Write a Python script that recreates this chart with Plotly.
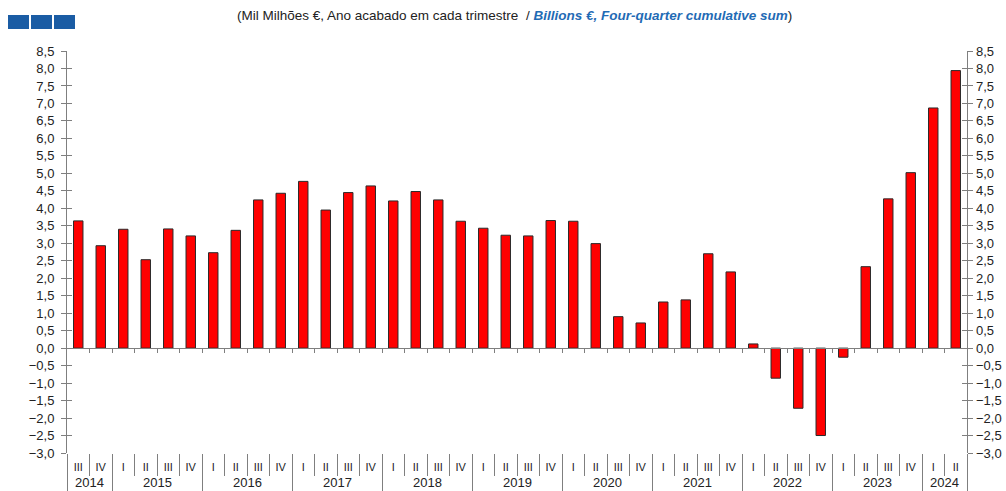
import plotly.graph_objects as go

years = ["2014"] * 2 + ["2015"] * 4 + ["2016"] * 4 + ["2017"] * 4 + ["2018"] * 4 + \
        ["2019"] * 4 + ["2020"] * 4 + ["2021"] * 4 + ["2022"] * 4 + ["2023"] * 4 + ["2024"] * 2
quarters = ["III", "IV"] + ["I", "II", "III", "IV"] * 9 + ["I", "II"]
values = [3.64, 2.93, 3.40, 2.53, 3.41, 3.21, 2.73, 3.37, 4.24, 4.43,
          4.77, 3.95, 4.45, 4.64, 4.21, 4.48, 4.24, 3.63, 3.43, 3.23,
          3.21, 3.65, 3.63, 2.99, 0.90, 0.72, 1.32, 1.38, 2.70, 2.18,
          0.12, -0.86, -1.72, -2.50, -0.26, 2.33, 4.27, 5.02, 6.87, 7.94]
y_ticks = [i * 0.5 for i in range(-6, 18)]

yr = [-3.0, 8.5]
n = len(values)
cats = [f"{y}-{q}" for y, q in zip(years, quarters)]
xr = [-0.5, n - 0.5]
font = "Liberation Sans, Arial, sans-serif"
axis_gray = "#7f7f7f"
txt = "#222222"

# boundaries between quarters and between years (category index space)
q_bounds = [i - 0.5 for i in range(n + 1)]
y_bounds = [-0.5] + [i - 0.5 for i in range(1, n) if years[i] != years[i - 1]] + [n - 0.5]
year_names, year_centers = [], []
for i, y in enumerate(years):
    if y not in year_names:
        idx = [j for j, v in enumerate(years) if v == y]
        year_names.append(y)
        year_centers.append(sum(idx) / len(idx))

fig = go.Figure()
fig.add_trace(go.Bar(
    x=cats, y=values,
    marker=dict(color="#ff0000", line=dict(color="#2a2a2a", width=1)),
    hoverinfo="y", showlegend=False,
))
# invisible helper traces so overlay axes are drawn
for xa, ya in [("x2", "y"), ("x3", "y"), ("x4", "y"), ("x", "y2"), ("x", "y3")]:
    fig.add_trace(go.Scatter(x=[cats[0]] if xa == "x" else [0], y=[0], xaxis=xa, yaxis=ya,
                             mode="markers", marker=dict(opacity=0),
                             hoverinfo="skip", showlegend=False))

zero_pos = (0 - yr[0]) / (yr[1] - yr[0])

fig.update_layout(
    width=1006, height=491,
    margin=dict(l=67, r=39, t=51, b=38, autoexpand=False),
    paper_bgcolor="white", plot_bgcolor="white",
    separators=",.",
    bargap=0.58,
    font=dict(family=font, size=13, color=txt),
    xaxis=dict(
        type="category", range=xr, showline=False, showgrid=False, zeroline=False,
        automargin=False,
        tickvals=cats, ticktext=quarters, ticks="outside", ticklen=4, tickcolor="rgba(0,0,0,0)",
        tickfont=dict(family=font, size=11, color=txt),
    ),
    xaxis2=dict(
        overlaying="x", anchor="free", position=zero_pos, side="bottom", automargin=False,
        range=xr, showgrid=False, zeroline=False,
        showline=True, linecolor=axis_gray, linewidth=1,
        ticks="outside", ticklen=4, tickcolor=axis_gray,
        tickvals=q_bounds[1:-1], showticklabels=False,
    ),
    xaxis3=dict(
        overlaying="x", anchor="y", side="bottom", range=xr, showgrid=False, zeroline=False,
        automargin=False,
        showline=False, ticks="outside", ticklen=22, tickcolor=axis_gray,
        tickvals=q_bounds, showticklabels=False,
    ),
    xaxis4=dict(
        overlaying="x", anchor="y", side="bottom", range=xr, showgrid=False, zeroline=False,
        automargin=False,
        showline=False, ticks="outside", ticklen=40, tickcolor=axis_gray,
        tickvals=y_bounds, showticklabels=False,
    ),
    yaxis=dict(
        range=yr, tickvals=y_ticks, tickformat=".1f", showgrid=False, zeroline=False,
        automargin=False, ticklabelstandoff=4,
        showline=True, linecolor=axis_gray, linewidth=1, mirror="ticks",
        ticks="outside", ticklen=5, tickcolor=axis_gray,
        tickfont=dict(family=font, size=13, color=txt),
    ),
    yaxis2=dict(
        overlaying="y", side="right", anchor="x", range=yr, tickvals=y_ticks, tickformat=".1f",
        showgrid=False, zeroline=False, showline=False, automargin=False,
        ticklabelstandoff=8,
        ticks="inside", ticklen=5, tickcolor=axis_gray,
        tickfont=dict(family=font, size=13, color=txt),
    ),
    yaxis3=dict(
        overlaying="y", side="left", anchor="x", range=yr, tickvals=y_ticks,
        showgrid=False, zeroline=False, showline=False, automargin=False,
        ticks="inside", ticklen=5, tickcolor=axis_gray, showticklabels=False,
    ),
    annotations=[dict(
        xref="paper", yref="paper", x=0.497, y=1, yshift=36, xanchor="center", yanchor="middle",
        showarrow=False,
        text="(Mil Milhões €, Ano acabado em cada trimestre  / "
             "<b><i><span style='color:#1f6bb5'>Billions €, Four-quarter cumulative sum</span></i></b>)",
        font=dict(family=font, size=13.5, color=txt),
    )] + [
        dict(xref="x", yref="paper", x=c, y=0, yshift=-29, xanchor="center", yanchor="middle",
             showarrow=False, text=name, font=dict(family=font, size=13, color=txt))
        for name, c in zip(year_names, year_centers)
    ],
    shapes=[
        dict(type="rect", xref="paper", yref="paper", xsizemode="pixel", ysizemode="pixel",
             xanchor=0, yanchor=1, x0=-59 + i * 23, x1=-38 + i * 23, y0=22, y1=36,
             fillcolor="#1a5ca4", line=dict(width=0))
        for i in range(3)
    ],
)

fig.write_html("out.html", config={"displayModeBar": False},
               post_script="document.body.style.margin='0';document.body.style.overflow='hidden';")
